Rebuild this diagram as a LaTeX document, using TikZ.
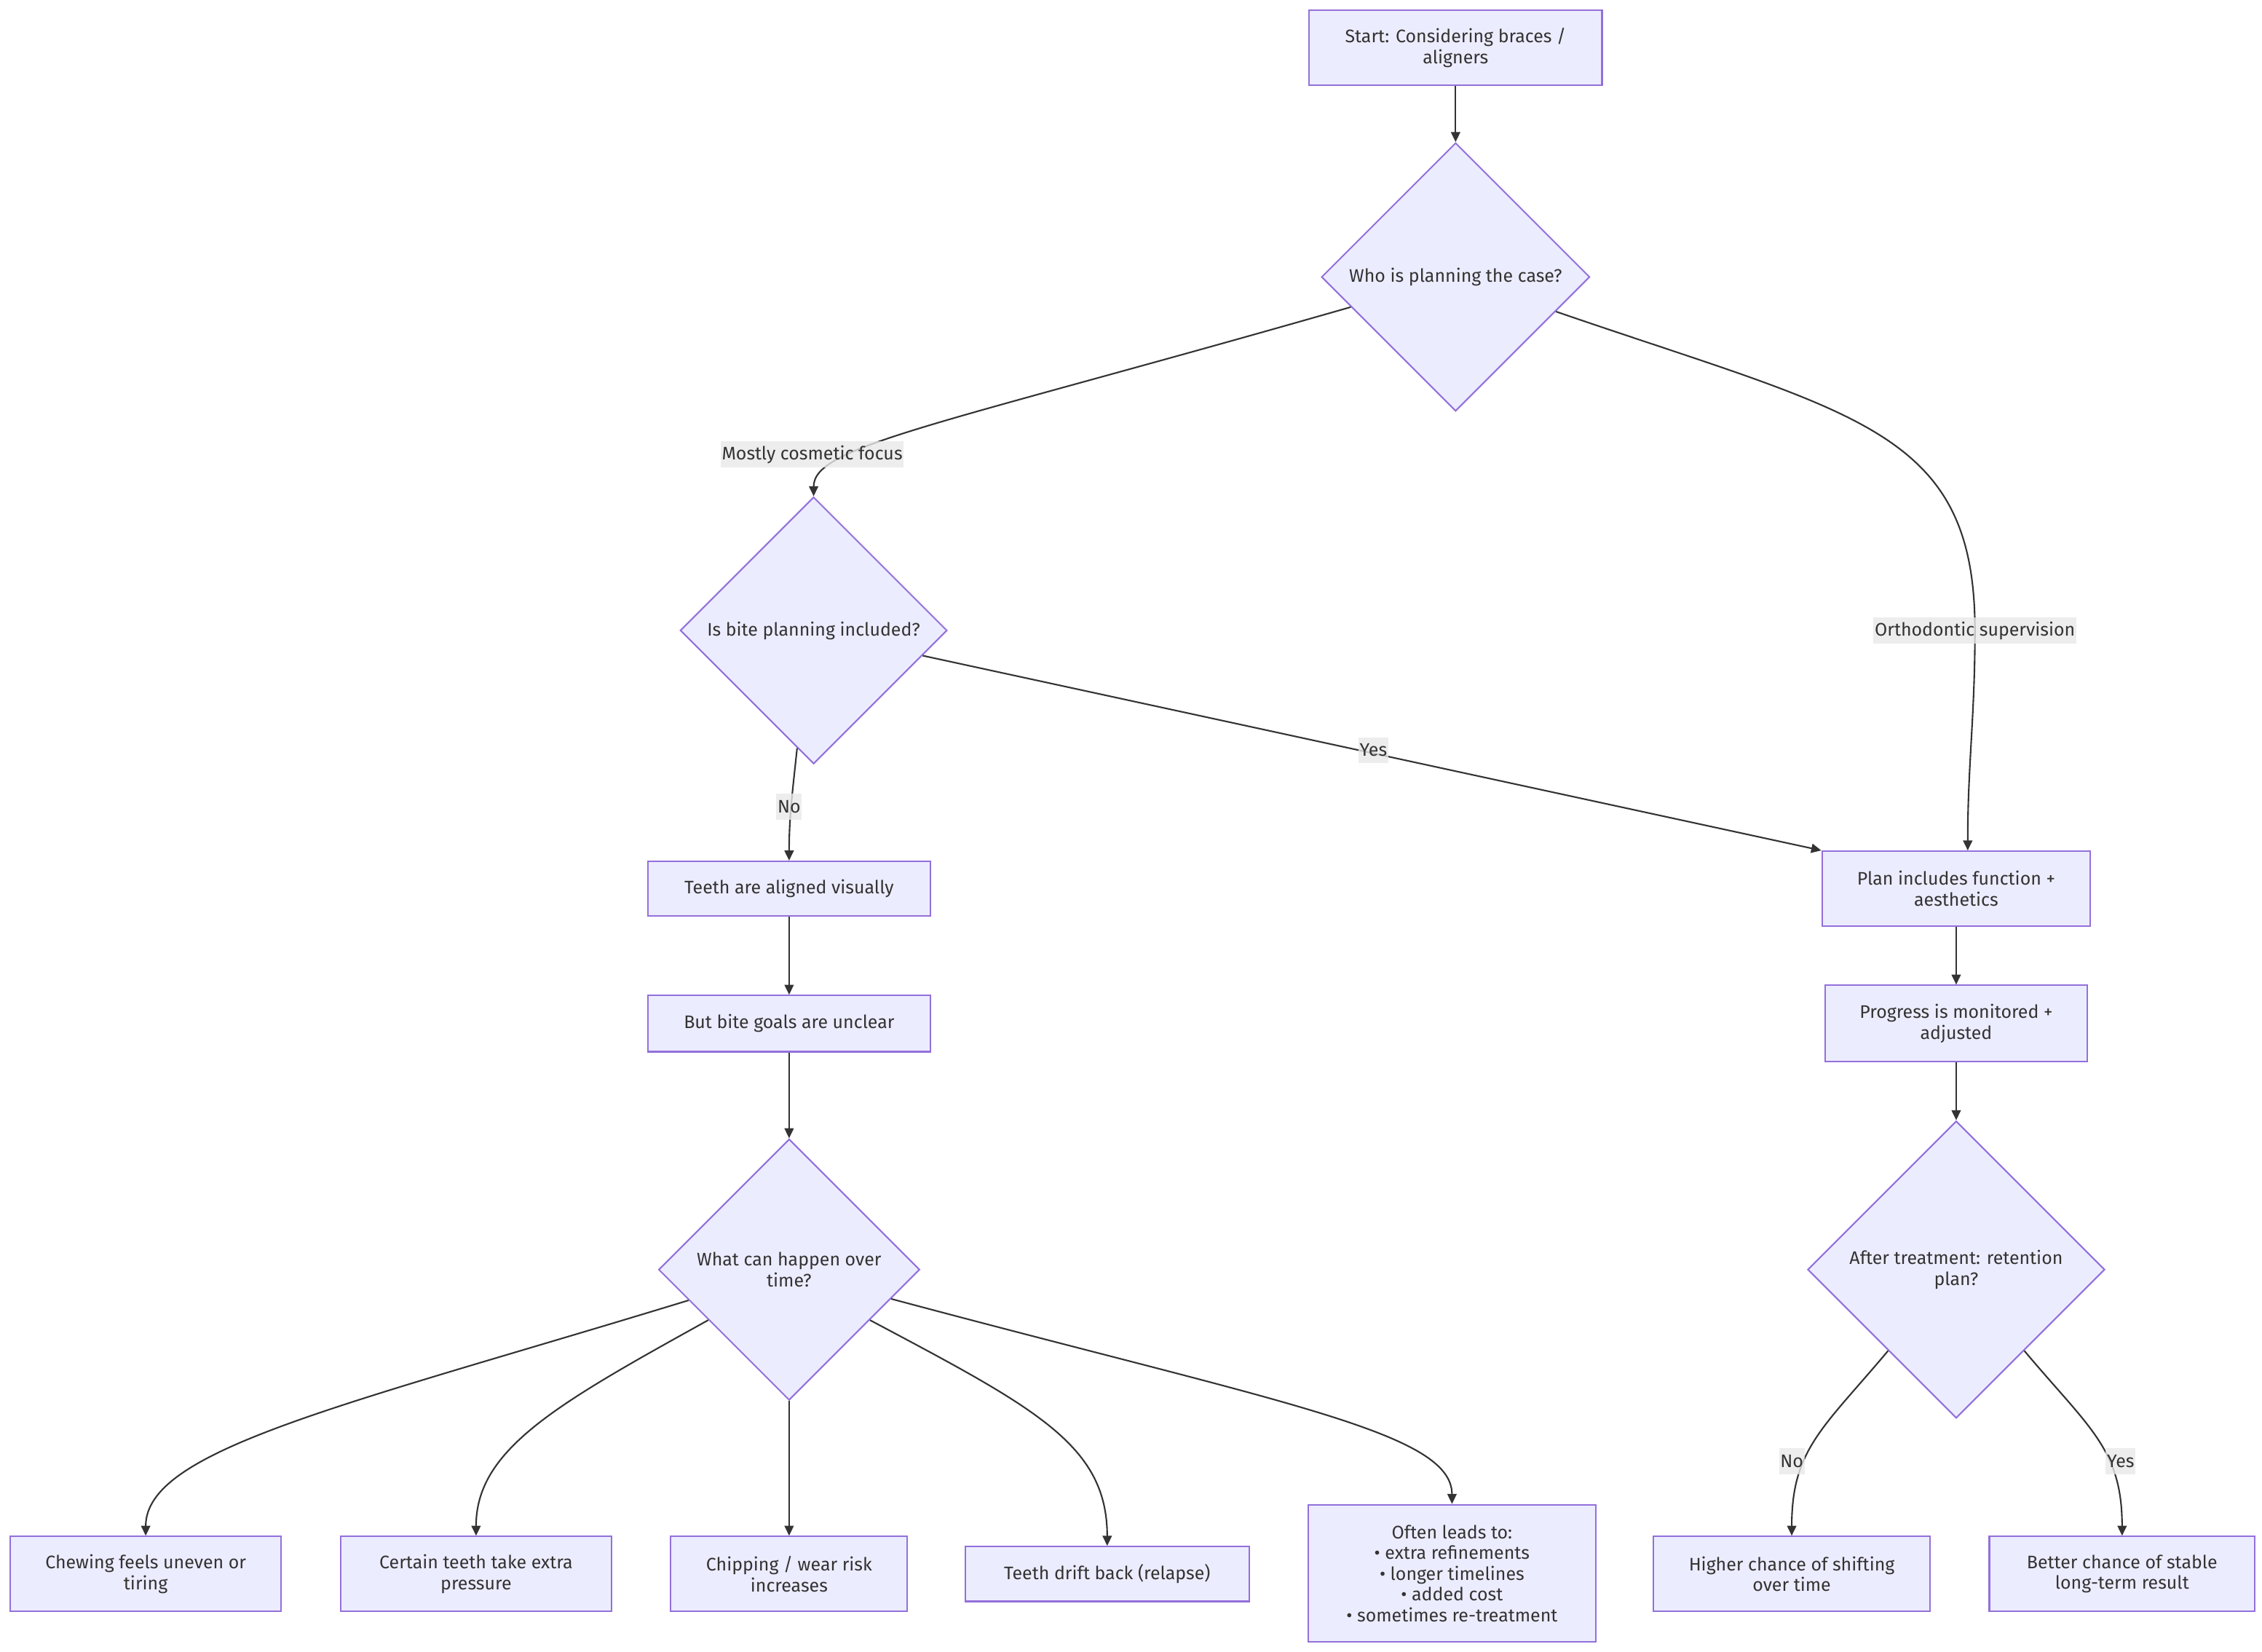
\documentclass[tikz,border=0pt]{standalone}
\usepackage{fontspec}
\setmainfont{Fira Sans}
\usetikzlibrary{arrows.meta,shapes.geometric}
\definecolor{flowFill}{HTML}{ECECFF}
\definecolor{flowBorder}{HTML}{9370DB}
\definecolor{flowInk}{HTML}{333333}
\definecolor{flowLabel}{HTML}{E8E8E8}
\newlength{\unitpx}
\setlength{\unitpx}{0.019815cm}

\begin{document}
\begin{tikzpicture}[
  x=\unitpx, y=-\unitpx,
  font=\fontsize{7.1}{8.1}\selectfont,
  >={Triangle[length=3.9pt,width=3.6pt]},
  stepbox/.style={
    draw=flowBorder, fill=flowFill, line width=0.6pt, text=flowInk,
    align=center, inner sep=0pt, minimum height=52\unitpx
  },
  query/.style={
    diamond, aspect=1, draw=flowBorder, fill=flowFill, line width=0.6pt,
    text=flowInk, align=center, inner sep=0pt
  },
  arr/.style={->, draw=flowInk, line width=0.6pt},
  cond/.style={fill=flowLabel, fill opacity=0.8, text opacity=1, text=flowInk,
               inner xsep=0.5pt, inner ysep=0pt, minimum height=18\unitpx}
]
\useasboundingbox (0,0) rectangle (1568,1145);

% Entry and first decision
\node[stepbox, minimum width=203\unitpx] (start) at (1009,33) {Start: Considering braces /\\aligners};
\node[query, minimum size=186\unitpx] (who) at (1009,192) {Who is planning the case?};

% Cosmetic branch
\node[query, minimum size=185\unitpx] (bite) at (564,437) {Is bite planning included?};
\node[stepbox, minimum width=196\unitpx, minimum height=38\unitpx] (aligned) at (547,616) {Teeth are aligned visually};
\node[stepbox, minimum width=196\unitpx, minimum height=39\unitpx] (unclear) at (547,709.5) {But bite goals are unclear};
\node[query, minimum size=181\unitpx] (overtime) at (547,880) {What can happen over\\time?};

% Supervised branch
\node[stepbox, minimum width=186\unitpx] (plan) at (1356,616) {Plan includes function +\\aesthetics};
\node[stepbox, minimum width=182\unitpx, minimum height=53\unitpx] (progress) at (1356,709.5) {Progress is monitored +\\adjusted};
\node[query, minimum size=206\unitpx] (retention) at (1356,880) {After treatment: retention\\plan?};

% Outcomes along the bottom row
\node[stepbox, minimum width=188\unitpx] (chewing) at (101,1091) {Chewing feels uneven or\\tiring};
\node[stepbox, minimum width=188\unitpx] (pressure) at (330,1091) {Certain teeth take extra\\pressure};
\node[stepbox, minimum width=164\unitpx] (chipping) at (547,1091) {Chipping / wear risk\\increases};
\node[stepbox, minimum width=197\unitpx, minimum height=38\unitpx] (relapse) at (767.5,1091) {Teeth drift back (relapse)};
\node[stepbox, minimum width=199\unitpx, minimum height=95\unitpx] (often) at (1006.5,1090.5) {Often leads to:\\• extra refinements\\• longer timelines\\• added cost\\• sometimes re-treatment};
\node[stepbox, minimum width=192\unitpx] (shifting) at (1242,1091) {Higher chance of shifting\\over time};
\node[stepbox, minimum width=184\unitpx] (stable) at (1471,1091) {Better chance of stable\\long-term result};

% Label points on the curved edges
\coordinate (cosmeticPt) at (563,315);
\coordinate (orthoPt) at (1369,437);
\coordinate (yesBitePt) at (952,520);
\coordinate (noBitePt) at (547,559);
\coordinate (noRetPt) at (1242,1013);
\coordinate (yesRetPt) at (1470,1013);

% Edges
\draw[arr] (start) -- (who);
\draw[arr] (who.196) to[out=196, in=90, out distance=300\unitpx, in distance=35\unitpx] (bite.north);
\draw[arr] (who.-19) to[out=-19, in=90, out distance=220\unitpx, in distance=140\unitpx] (orthoPt)
  to[out=-90, in=90] ([xshift=8\unitpx]plan.north);
\draw[arr] (bite.-13) -- (plan.north west);
\draw[arr] (bite.262) to[out=-96, in=90] (aligned.north);
\draw[arr] (aligned) -- (unclear);
\draw[arr] (unclear) -- (overtime);
\draw[arr] (plan) -- (progress);
\draw[arr] (progress) -- (retention);

% Fan out of the over-time question
\draw[arr] (overtime.197) to[out=197, in=90, out distance=250\unitpx, in distance=60\unitpx] (chewing.north);
\draw[arr] (overtime.212) to[out=209, in=90, out distance=120\unitpx, in distance=60\unitpx] (pressure.north);
\draw[arr] (overtime.south) -- (chipping.north);
\draw[arr] (overtime.-32) to[out=-28, in=90, out distance=130\unitpx, in distance=70\unitpx] (relapse.north);
\draw[arr] (overtime.-16) to[out=-15, in=90, out distance=280\unitpx, in distance=50\unitpx] (often.north);

% Retention answers
\draw[arr] (retention.230) to[out=230, in=90, out distance=70\unitpx, in distance=60\unitpx] (shifting.north);
\draw[arr] (retention.310) to[out=-50, in=90, out distance=70\unitpx, in distance=60\unitpx] (stable.north);

% Edge labels
\node[cond] (cosmeticLbl) at (cosmeticPt) {Mostly cosmetic focus};
\node[cond] (orthoLbl) at (orthoPt) {Orthodontic supervision};
\node[cond] (yesBiteLbl) at (yesBitePt) {Yes};
\node[cond] (noBiteLbl) at (noBitePt) {No};
\node[cond] (noRetLbl) at (noRetPt) {No};
\node[cond] (yesRetLbl) at (yesRetPt) {Yes};

\end{tikzpicture}
\end{document}
